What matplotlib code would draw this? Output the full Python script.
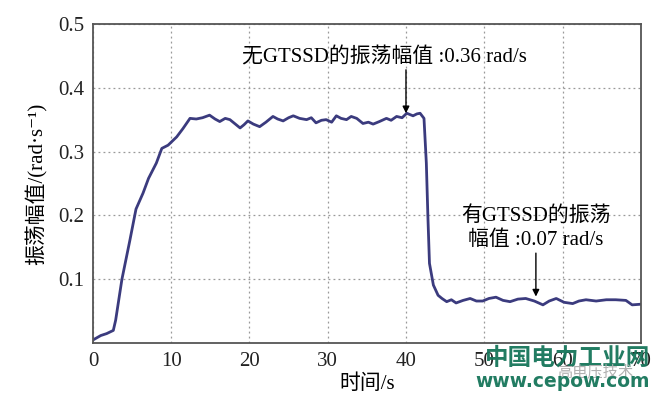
import matplotlib
matplotlib.use("Agg")
import matplotlib.pyplot as plt
import numpy as np

# data
t = [0, 1.0, 1.75, 2.6, 2.9, 3.7, 4.7, 5.5, 6.4, 7.1, 8.1, 8.8, 9.6, 10.7, 11.5, 12.4,
     13.2, 14.0, 14.9, 15.6, 16.2, 16.9, 17.5, 18.2, 18.8, 19.3, 19.8, 20.5, 21.3,
     22.1, 23.0, 23.6, 24.3, 25.0, 25.6, 26.4, 27.3, 27.9, 28.5, 29.2, 29.8, 30.5,
     31.1, 31.7, 32.4, 33.0, 33.7, 34.5, 35.2, 35.8, 36.6, 37.5, 38.1, 38.8, 39.5,
     40.1, 40.9, 41.4, 41.8, 42.3, 42.6, 42.8, 43.0, 43.5, 44.1, 44.6, 45.2, 45.8,
     46.4, 47.3, 48.2, 49.0, 49.8, 50.6, 51.5, 52.4, 53.3, 54.3, 55.3, 56.4, 57.5,
     58.3, 59.2, 60.2, 61.3, 62.1, 63.0, 64.3, 65.6, 66.8, 68.1, 68.9, 70.0]
amp = [0.005, 0.012, 0.015, 0.02, 0.036, 0.1, 0.16, 0.21, 0.235, 0.258, 0.282, 0.305,
       0.31, 0.323, 0.336, 0.352, 0.351, 0.353, 0.357, 0.351, 0.347, 0.352, 0.35,
       0.343, 0.337, 0.342, 0.348, 0.343, 0.339, 0.346, 0.355, 0.351, 0.348, 0.353,
       0.356, 0.352, 0.35, 0.353, 0.345, 0.349, 0.35, 0.346, 0.356, 0.352, 0.35,
       0.355, 0.352, 0.344, 0.346, 0.343, 0.347, 0.352, 0.349, 0.355, 0.353, 0.36,
       0.356, 0.359, 0.36, 0.352, 0.282, 0.198, 0.125, 0.091, 0.075, 0.07, 0.065,
       0.068, 0.063, 0.067, 0.07, 0.066, 0.066, 0.07, 0.072, 0.067, 0.065, 0.069,
       0.07, 0.066, 0.06, 0.066, 0.07, 0.064, 0.062, 0.066, 0.068, 0.066, 0.068,
       0.068, 0.067, 0.06, 0.061]

xticks = [0, 10, 20, 30, 40, 50, 60, 70]
yticks = [0.1, 0.2, 0.3, 0.4, 0.5]

fam = ['Liberation Serif', 'Noto Sans CJK SC', 'DejaVu Sans']
plt.rcParams['font.family'] = fam

fig = plt.figure(figsize=(6.64, 4.11), dpi=100)
ax = fig.add_axes([0.140, 0.165, 0.825, 0.777])

ax.plot(t, amp, color='#3b3b7e', lw=2)

ax.set_xlim(0, 70)
ax.set_ylim(0, 0.5)
ax.set_xticks(xticks)
ax.set_yticks(yticks)
ax.set_xticklabels([str(v) for v in xticks])
ax.set_yticklabels([str(v) for v in yticks])
ax.tick_params(length=0, labelsize=15, colors='#222222', pad=6)
ax.grid(True, linestyle=(0, (1.5, 2.5)), color='#999999', lw=0.9)
for s in ax.spines.values():
    s.set_color('#555555')
    s.set_linewidth(1.3)

ax.set_xlabel('时间/s', fontsize=15, labelpad=3)
ax.set_ylabel('振荡幅值/(rad·s⁻¹)', fontsize=15, labelpad=8)

# annotations
ax.text(37.2, 0.447, '无GTSSD的振荡幅值 :0.36 rad/s', ha='center', va='center', fontsize=15)
ax.annotate('', xy=(40, 0.36), xytext=(40, 0.428),
            arrowprops=dict(arrowstyle='-|>', color='black', lw=1, shrinkA=0, shrinkB=0,
                            mutation_scale=10))
ax.text(56.6, 0.2, '有GTSSD的振荡', ha='center', va='center', fontsize=15)
ax.text(56.6, 0.161, '幅值 :0.07 rad/s', ha='center', va='center', fontsize=15)
ax.annotate('', xy=(56.6, 0.073), xytext=(56.6, 0.141),
            arrowprops=dict(arrowstyle='-|>', color='black', lw=1, shrinkA=0, shrinkB=0,
                            mutation_scale=10))

# watermark
fig.text(0.855, 0.131, '中国电力工业网', color='#16755a', fontsize=17, fontweight='bold',
         ha='center', va='center', family=['Noto Sans CJK SC'], alpha=0.95)
fig.text(0.896, 0.095, '高电压技术', color='#b0b0b0', fontsize=11,
         ha='center', va='center', family=['Noto Sans CJK SC'])
fig.text(0.848, 0.071, 'www.cepow.com', color='#16755a', fontsize=13.5, fontweight='bold',
         ha='center', va='center', family=['DejaVu Sans'], alpha=0.95)

fig.savefig('out.png', dpi=100)
